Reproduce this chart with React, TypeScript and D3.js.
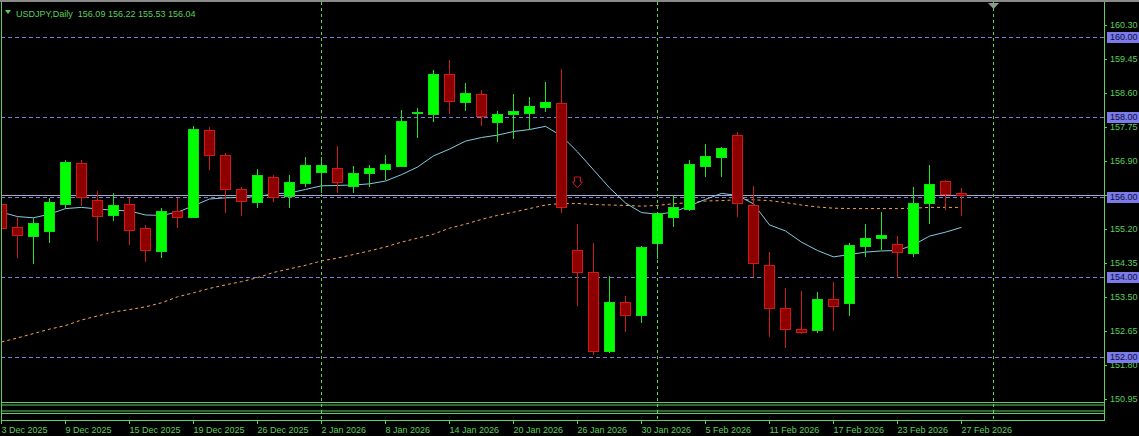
import React from "react";
import * as d3 from "d3";

// ---- data ----
const dates: string[] = [
  "3 Dec 2025","4 Dec 2025","5 Dec 2025","8 Dec 2025","9 Dec 2025","10 Dec 2025","11 Dec 2025","12 Dec 2025",
  "15 Dec 2025","16 Dec 2025","17 Dec 2025","18 Dec 2025","19 Dec 2025","22 Dec 2025","23 Dec 2025","24 Dec 2025",
  "26 Dec 2025","29 Dec 2025","30 Dec 2025","31 Dec 2025","2 Jan 2026","5 Jan 2026","6 Jan 2026","7 Jan 2026",
  "8 Jan 2026","9 Jan 2026","12 Jan 2026","13 Jan 2026","14 Jan 2026","15 Jan 2026","16 Jan 2026","19 Jan 2026",
  "20 Jan 2026","21 Jan 2026","22 Jan 2026","23 Jan 2026","26 Jan 2026","27 Jan 2026","28 Jan 2026","29 Jan 2026",
  "30 Jan 2026","2 Feb 2026","3 Feb 2026","4 Feb 2026","5 Feb 2026","6 Feb 2026","9 Feb 2026","10 Feb 2026",
  "11 Feb 2026","12 Feb 2026","13 Feb 2026","16 Feb 2026","17 Feb 2026","18 Feb 2026","19 Feb 2026","20 Feb 2026",
  "23 Feb 2026","24 Feb 2026","25 Feb 2026","26 Feb 2026","27 Feb 2026",
];
const opens: number[] = [
  155.83,155.24,155.03,155.16,155.82,156.84,155.93,155.56,155.82,155.22,154.66,155.65,155.51,157.68,157.05,156.19,
  155.88,156.49,156.03,156.34,156.62,156.73,156.28,156.59,156.70,156.78,158.10,158.07,159.08,158.37,158.57,157.87,
  158.07,158.11,158.25,158.35,154.67,154.11,152.15,153.36,153.05,154.86,155.51,155.70,156.78,157.01,157.55,155.80,
  154.30,153.21,152.69,152.67,153.44,153.35,154.78,154.97,154.82,154.61,155.84,156.40,156.09,
];
const highs: number[] = [
  155.95,155.51,155.47,155.97,156.93,156.93,156.16,156.09,155.97,155.30,155.72,155.97,157.78,157.75,157.10,156.24,
  156.70,156.55,156.55,157.00,157.00,157.28,156.78,156.80,157.05,158.18,158.22,159.18,159.43,158.85,158.68,158.15,
  158.58,158.51,158.87,159.20,155.32,154.86,154.02,153.52,154.78,155.63,156.05,156.93,157.33,157.25,157.64,156.28,
  154.62,153.71,153.65,153.61,153.88,154.86,155.32,155.63,155.02,156.26,156.80,156.43,156.22,
];
const lows: number[] = [
  154.95,154.47,154.32,154.86,155.72,155.78,154.91,155.41,154.80,154.36,154.47,155.22,155.47,156.68,155.61,155.53,
  155.72,155.88,155.72,156.26,156.09,156.09,156.11,156.26,156.43,156.74,157.49,157.89,158.07,158.16,157.79,157.39,
  157.45,157.70,158.14,155.59,153.27,152.04,152.10,152.63,152.84,154.45,155.26,155.66,156.49,156.49,155.49,154.00,
  152.50,152.23,152.56,152.60,152.65,153.03,154.51,154.67,153.96,154.49,155.32,155.67,155.53,
];
const closes: number[] = [
  155.22,155.06,155.34,155.87,156.87,155.99,155.53,155.80,155.17,154.67,155.65,155.51,157.70,157.05,156.19,155.91,
  156.55,156.01,156.37,156.80,156.80,156.37,156.59,156.73,156.83,157.91,158.13,159.08,158.41,158.60,158.04,158.07,
  158.15,158.28,158.37,155.76,154.11,152.15,153.36,153.05,154.74,155.59,155.76,156.83,157.03,157.22,155.84,154.34,
  153.21,152.69,152.63,153.44,153.28,154.80,154.97,155.05,154.62,155.84,156.33,156.08,156.04,
];
const maFast: number[] = [
  155.62,155.51,155.48,155.57,155.71,155.74,155.70,155.67,155.65,155.55,155.54,155.62,155.78,155.95,155.98,155.99,
  156.01,156.08,156.10,156.19,156.28,156.29,156.30,156.33,156.40,156.56,156.75,157.03,157.20,157.40,157.49,157.55,
  157.64,157.69,157.77,157.53,157.13,156.68,156.23,155.85,155.61,155.57,155.62,155.78,155.94,156.09,156.04,155.83,
  155.30,155.15,154.87,154.66,154.50,154.56,154.62,154.65,154.66,154.80,155.02,155.12,155.24,
];
const maSlow: number[] = [
  152.37,152.47,152.58,152.69,152.78,152.92,153.02,153.12,153.18,153.25,153.35,153.50,153.60,153.71,153.80,153.88,
  153.98,154.11,154.20,154.29,154.40,154.47,154.56,154.65,154.75,154.87,154.97,155.07,155.22,155.32,155.44,155.54,
  155.62,155.71,155.80,155.84,155.84,155.81,155.80,155.79,155.77,155.79,155.83,155.86,155.90,155.91,155.93,155.93,
  155.91,155.86,155.80,155.75,155.72,155.71,155.71,155.71,155.71,155.72,155.74,155.74,155.74,
];
const priceTicks: number[] = [150.95,151.80,152.65,153.50,154.35,155.20,156.05,156.90,157.75,158.60,159.45,160.30];
const levelLines: number[] = [160.0, 158.0, 156.0, 154.0, 152.0];
const gridBars: number[] = [20, 41, 62];
const bidPrice = 156.04;
const arrowBar = 36;
const arrowPrice = 156.5;
const headerText = "USDJPY,Daily  156.09 156.22 155.53 156.04";

// ---- layout ----
const W = 1139, H = 436;
const L = 1, R = 1104, T = 2, B = 402.5;
const FG = "#5CD05C";
const FONT = "'Liberation Sans', Arial, sans-serif";

export default function App() {
  const x = d3.scaleLinear().domain([0, 62]).range([1, 993]);
  const y = d3.scaleLinear().domain([150.866, 160.884]).range([402, 2]);
  const bars = d3.range(dates.length);
  const line = (vals: number[]) =>
    d3.line<number>().x((d, i) => x(i) + 0.5).y((d) => y(d))(vals) || "";
  const tickIdx = bars.filter((i) => i % 4 === 0);
  const ax = Math.round(x(arrowBar)) + 0.5;
  const ay = Math.round(y(arrowPrice));

  return (
    <svg width={W} height={H} style={{ position: "absolute", left: 0, top: 0, background: "#000" }}
      fontFamily={FONT}>
      <defs>
        <clipPath id="plot"><rect x={L + 0.5} y={T} width={R - L - 0.5} height={B - T} /></clipPath>
      </defs>
      <rect x={0} y={0} width={W} height={H} fill="#000" />
      <rect x={0} y={0} width={W} height={2} fill="#8a8a8a" />

      <g clipPath="url(#plot)">
        {/* level lines */}
        {levelLines.map((p) => (
          <line key={p} x1={L} x2={R} y1={Math.round(y(p)) + 0.5} y2={Math.round(y(p)) + 0.5}
            stroke="#7C7CE0" strokeDasharray="4,3" />
        ))}
        {/* bid line */}
        <line x1={L} x2={R} y1={Math.round(y(bidPrice)) + 0.5} y2={Math.round(y(bidPrice)) + 0.5} stroke="#A8A8C4" />
        {/* MAs */}
        <path d={line(maSlow)} fill="none" stroke="#F4A460" strokeDasharray="3,3" />
        <path d={line(maFast)} fill="none" stroke="#82CDE0" />
        {/* candles */}
        {bars.map((i) => {
          const cx = Math.round(x(i)) + 0.5;
          const o = opens[i], c = closes[i];
          const bull = c >= o;
          const top = Math.round(y(Math.max(o, c)));
          const bot = Math.max(top + 1, Math.round(y(Math.min(o, c))));
          const wick = bull ? "#22E022" : "#D01A1A";
          return (
            <g key={i}>
              <line x1={cx} x2={cx} y1={Math.round(y(highs[i]))} y2={Math.round(y(lows[i]))} stroke={wick} />
              <rect x={cx - 5} y={top + 0.5} width={10} height={bot - top} fill={bull ? "#00FF00" : "#8E0000"}
                stroke={bull ? "#10E010" : "#D01A1A"} />
            </g>
          );
        })}
        {/* arrow */}
        <path d={`M${ax - 3},${ay} H${ax + 3} V${ay + 5} H${ax + 5} L${ax},${ay + 11} L${ax - 5},${ay + 5} H${ax - 3} Z`}
          fill="none" stroke="#C81818" />
      </g>

      {/* vertical grid */}
      {gridBars.map((b) => (
        <line key={b} x1={Math.round(x(b)) + 0.5} x2={Math.round(x(b)) + 0.5} y1={T} y2={420.5}
          stroke="#50D850" strokeDasharray="3,3" />
      ))}

      {/* frames */}
      <line x1={L + 0.5} x2={L + 0.5} y1={T} y2={420.5} stroke={FG} />
      <line x1={R + 0.5} x2={R + 0.5} y1={T} y2={420.5} stroke={FG} />
      <line x1={L} x2={R} y1={B} y2={B} stroke={FG} />
      <rect x={L + 0.5} y={405} width={R - L} height={6} fill="none" stroke={FG} />
      <rect x={L + 0.5} y={413.5} width={R - L} height={7} fill="none" stroke={FG} />

      {/* shift marker */}
      <path d={`M${x(62) - 5},3 L${x(62) + 6},3 L${x(62) + 0.5},9 Z`} fill="#8c9a8c" />

      {/* header */}
      <path d="M5,10 L11,10 L8,14 Z" fill={FG} />
      <text x={16} y={16.5} fontSize={9} fill={FG} style={{ whiteSpace: "pre" }}>{headerText}</text>

      {/* price axis */}
      {priceTicks.map((p) => (
        <g key={p}>
          <line x1={R} x2={R + 3} y1={Math.round(y(p)) + 0.5} y2={Math.round(y(p)) + 0.5} stroke={FG} />
          <text x={1110} y={y(p)} dy="0.35em" fontSize={9} fill={FG}>{p.toFixed(2)}</text>
        </g>
      ))}
      {levelLines.map((p) => (
        <g key={"lb" + p}>
          <rect x={1107} y={Math.round(y(p)) - 5} width={32} height={11} fill="#7B7BEA" />
          <text x={1110} y={y(p)} dy="0.35em" fontSize={9} fill="#0A0A40">{p.toFixed(2)}</text>
        </g>
      ))}

      {/* time axis */}
      {tickIdx.map((i) => {
        const tx = Math.round(x(i)) + 0.5;
        return (
          <g key={"t" + i}>
            <line x1={tx} x2={tx} y1={420.5} y2={424} stroke={FG} />
            <text x={tx} y={432.5} fontSize={9} fill={FG}>{dates[i]}</text>
          </g>
        );
      })}
    </svg>
  );
}
